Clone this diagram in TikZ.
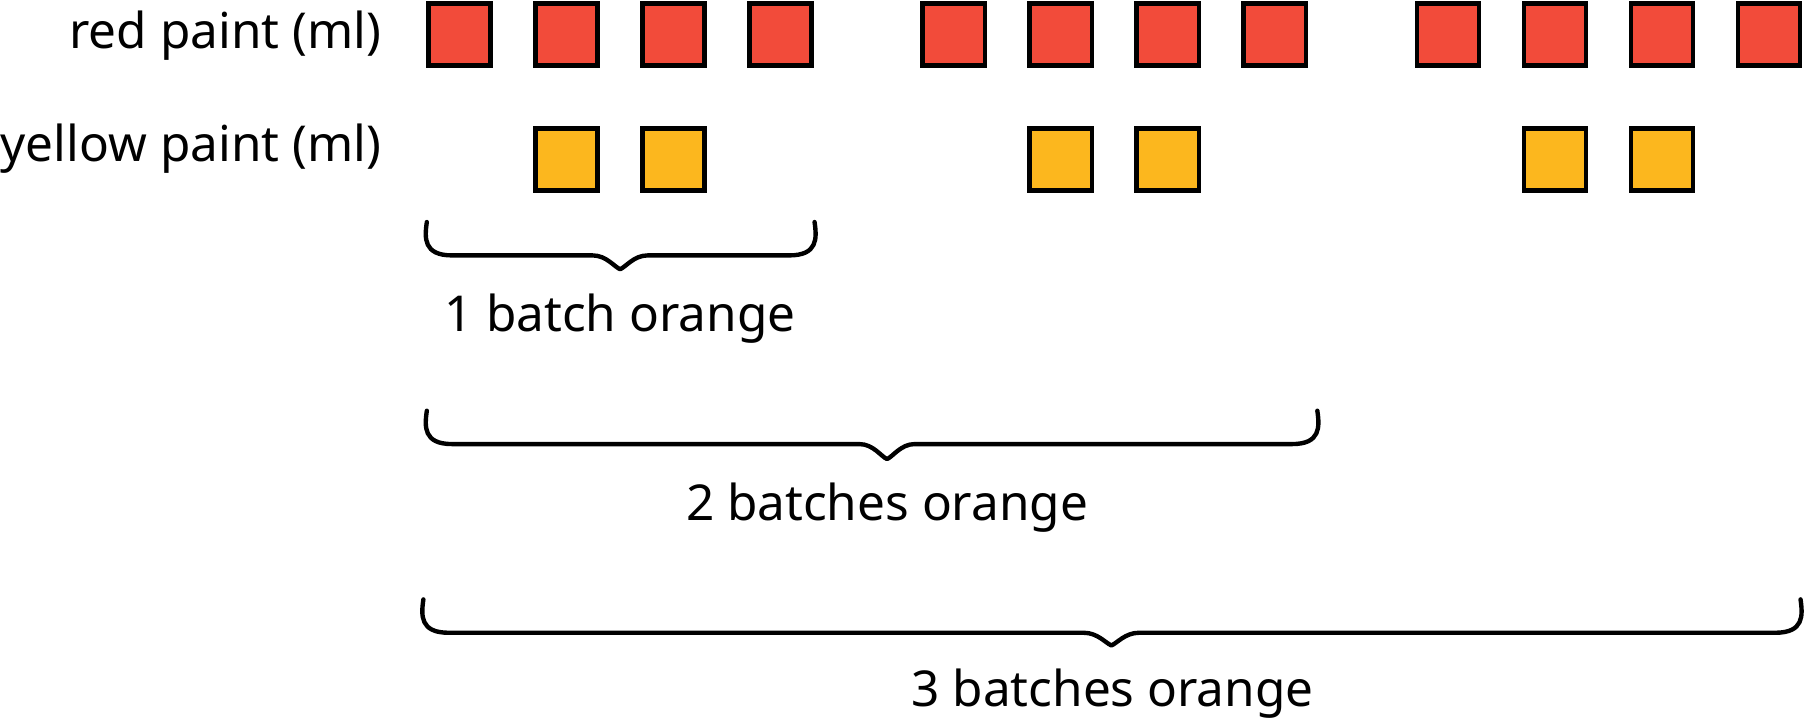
\documentclass[tikz,border=0pt]{standalone}
\usepackage{fontspec}
\setmainfont{Noto Sans}
\definecolor{paintred}{HTML}{F24B3A}
\definecolor{paintyellow}{HTML}{FCB71E}
\newcommand\mybrace[6]{%
  % #1 left x, #2 right x, #3 top y, #4 line y, #5 tip x, #6 tip y
  \draw[bracestyle] (#1,-#3) .. controls ({#1-2},{-(#3+14)}) and ({#1-3},-#4) .. ({#1+22},-#4)
    -- ({#5-24},-#4) .. controls ({#5-12},-#4) and ({#5-5},{-(#6-2)}) .. (#5,-#6)
    .. controls ({#5+5},{-(#6-2)}) and ({#5+12},-#4) .. ({#5+24},-#4)
    -- ({#2-22},-#4) .. controls ({#2+3},-#4) and ({#2+2},{-(#3+14)}) .. (#2,-#3);}
\begin{document}
\begin{tikzpicture}[x=0.25pt,y=0.25pt,
  sq/.style={draw=black,line width=1pt,minimum size=13.5pt,inner sep=0pt,outer sep=0pt},
  redsq/.style={sq,fill=paintred},
  yellowsq/.style={sq,fill=paintyellow},
  bracestyle/.style={draw=black,line width=0.95pt,line cap=round,line join=round},
  lbl/.style={font=\fontsize{10.75pt}{13pt}\selectfont,inner sep=0pt}]
\path[use as bounding box] (0,0) rectangle (1568,-628.4);
\foreach \g in {0,1,2}{
  \foreach \i in {0,1,2,3}{
    \node[redsq] (r\g\i) at ({399.5+93*\i+429.5*\g},-30) {};
  }
  \foreach \i in {1,2}{
    \node[yellowsq] (y\g\i) at ({399.5+93*\i+429.5*\g},-138.5) {};
  }
}
\node[lbl,anchor=base east] (redlbl) at (332,-42) {red paint (ml)};
\node[lbl,anchor=base east] (yellowlbl) at (332,-140) {yellow paint (ml)};
\mybrace{371}{708}{193}{222}{539}{234}
\mybrace{371}{1145}{357}{386}{771}{399}
\mybrace{368}{1565}{521}{550}{966}{561}
\node[lbl,anchor=base] (b1) at (539,-288) {1 batch orange};
\node[lbl,anchor=base] (b2) at (771,-452) {2 batches orange};
\node[lbl,anchor=base] (b3) at (967,-614) {3 batches orange};
\end{tikzpicture}
\end{document}
